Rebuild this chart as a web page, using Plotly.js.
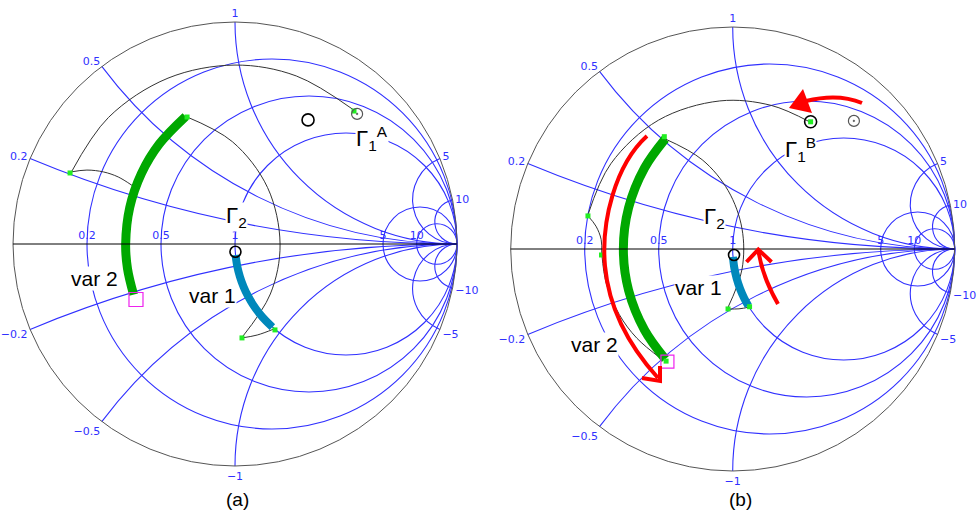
<!DOCTYPE html>
<html><head><meta charset="utf-8">
<script src="https://cdn.plot.ly/plotly-3.0.1.min.js"></script>
<style>html,body{margin:0;padding:0;background:#fff}</style>
</head><body><div id="chart" style="width:977px;height:514px"></div>
<script>
// ---- grid ticks (normalized resistance / reactance) ----
const gridReal = [0.2, 0.5, 1, 5, 10];
const gridImag = [-10, -5, -1, -0.5, -0.2, 0.2, 0.5, 1, 5, 10];

// ---- chart (a): swept normalized impedances ----
const var2A_real = [0.34, 0.34, 0.34, 0.34, 0.34, 0.34, 0.34];
const var2A_imag = [0.63, 0.45, 0.3, 0.15, 0, -0.1, -0.21];
const var1A_real = [1, 1, 1, 1, 1, 1, 1, 1, 1];
const var1A_imag = [-0.1, -0.2, -0.3, -0.4, -0.5, -0.6, -0.7, -0.8, -0.9];

// ---- chart (b): swept normalized impedances ----
const var2B_real = [0.34, 0.34, 0.34, 0.34, 0.34, 0.34, 0.34];
const var2B_imag = [0.51, 0.35, 0.17, 0, -0.17, -0.35, -0.51];
const var1B_real = [1, 1, 1, 1, 1, 1];
const var1B_imag = [-0.07, -0.17, -0.27, -0.37, -0.47, -0.55];

// ---- thin matching paths, read as reflection coefficient (re, im) ----
const pathA1_re = [-0.740, -0.570, -0.302, 0, 0.276, 0.533];
const pathA1_im = [0.319, 0.570, 0.747, 0.806, 0.757, 0.605];
const pathA2_re = [-0.743, -0.667, -0.592, -0.526, -0.464];
const pathA2_im = [0.324, 0.333, 0.3245, 0.302, 0.264];
const pathA3_re = [-0.2236, -0.0118, 0.1466, 0.203, 0.1592, 0.0306];
const pathA3_im = [0.5755, 0.4608, 0.2542, 0, -0.2253, -0.4216];
const pathA4_re = [0.0315, 0.10, 0.175];
const pathA4_im = [-0.423, -0.41, -0.383];

const pathB1_re = [-0.653, -0.549, -0.335, -0.058, 0.173, 0.350];
const pathB1_im = [0.151, 0.384, 0.580, 0.667, 0.647, 0.571];
const pathB2_re = [-0.652, -0.616, -0.5925, -0.590];
const pathB2_im = [0.149, 0.103, 0.0428, -0.0269];
const pathB3_re = [-0.589, -0.570, -0.511, -0.4315, -0.321];
const pathB3_im = [-0.0268, -0.153, -0.295, -0.402, -0.495];
const pathB4_re = [-0.3084, -0.1375, -0.0203, 0.042, 0.042, -0.0231];
const pathB4_im = [0.4979, 0.4022, 0.2625, 0.0911, -0.0911, -0.2672];
const pathB5_re = [-0.0212, 0.0283, 0.078];
const pathB5_im = [-0.270, -0.2695, -0.261];

// ---- marked points (reflection coefficient) ----
const nodesA_re = [-0.743, -0.216, 0.536, 0.0315, 0.180];
const nodesA_im = [0.320, 0.572, 0.599, -0.423, -0.387];
const nodesB_re = [-0.652, -0.591, -0.308, 0.351, -0.021, 0.076, -0.300];
const nodesB_im = [0.149, -0.027, 0.506, 0.573, -0.270, -0.260, -0.505];
const gamma1A_re = [0.329], gamma1A_im = [0.559];
const gamma1B_re = [0.351], gamma1B_im = [0.573];
const refA_re = [0.55], refA_im = [0.586];
const refB_re = [0.546], refB_im = [0.577];
const gamma2A_re = [0.002], gamma2A_im = [-0.035];
const gamma2B_re = [0.006], gamma2B_im = [-0.027];
const endA_re = [-0.446], endA_im = [-0.250];
const endB_re = [-0.294], endB_im = [-0.507];

// reflection coefficient -> normalized impedance
function toZ(re, im) {
  const R = [], X = [];
  for (let i = 0; i < re.length; i++) {
    const d = (1 - re[i]) * (1 - re[i]) + im[i] * im[i];
    R.push((1 - re[i] * re[i] - im[i] * im[i]) / d);
    X.push(2 * im[i] / d);
  }
  return {real: R, imag: X};
}

const GRID = '#3030ff';
const traces = [];
function thin(re, im, sp) {
  const z = toZ(re, im);
  traces.push({type: 'scattersmith', subplot: sp, real: z.real, imag: z.imag, mode: 'lines',
    line: {color: '#333', width: 1, shape: 'spline'}, hoverinfo: 'skip'});
}
function thick(real, imag, color, width, sp) {
  traces.push({type: 'scattersmith', subplot: sp, real: real, imag: imag, mode: 'lines',
    line: {color: color, width: width, shape: 'spline'}, hoverinfo: 'skip'});
}
function mark(re, im, sp, marker) {
  const z = toZ(re, im);
  traces.push({type: 'scattersmith', subplot: sp, real: z.real, imag: z.imag, mode: 'markers',
    marker: marker, hoverinfo: 'skip'});
}

// chart (a)
thin(pathA1_re, pathA1_im, 'smith');
thin(pathA2_re, pathA2_im, 'smith');
thin(pathA3_re, pathA3_im, 'smith');
thin(pathA4_re, pathA4_im, 'smith');
thick(var2A_real, var2A_imag, '#00a800', 9, 'smith');
thick(var1A_real, var1A_imag, '#0088bb', 8, 'smith');
mark(endA_re, endA_im, 'smith', {symbol: 'square-open', size: 14, color: '#ee22ee', line: {width: 1.2}});
mark(nodesA_re, nodesA_im, 'smith', {symbol: 'square', size: 5, color: '#22ee22'});
mark(gamma1A_re, gamma1A_im, 'smith', {symbol: 'circle-open', size: 12, color: '#000', line: {width: 1.6}});
mark(refA_re, refA_im, 'smith', {symbol: 'circle-open-dot', size: 11, color: '#555', line: {width: 1.2}});
mark(gamma2A_re, gamma2A_im, 'smith', {symbol: 'circle-open', size: 11, color: '#000', line: {width: 1.6}});

// chart (b)
thin(pathB1_re, pathB1_im, 'smith2');
thin(pathB2_re, pathB2_im, 'smith2');
thin(pathB3_re, pathB3_im, 'smith2');
thin(pathB4_re, pathB4_im, 'smith2');
thin(pathB5_re, pathB5_im, 'smith2');
thick(var2B_real, var2B_imag, '#00a800', 9, 'smith2');
thick(var1B_real, var1B_imag, '#0088bb', 8, 'smith2');
mark(endB_re, endB_im, 'smith2', {symbol: 'square-open', size: 13, color: '#ee22ee', line: {width: 1.2}});
mark(gamma1B_re, gamma1B_im, 'smith2', {symbol: 'circle-open', size: 12, color: '#000', line: {width: 1.6}});
mark(nodesB_re, nodesB_im, 'smith2', {symbol: 'square', size: 5, color: '#22ee22'});
mark(refB_re, refB_im, 'smith2', {symbol: 'circle-open-dot', size: 11, color: '#555', line: {width: 1.2}});
mark(gamma2B_re, gamma2B_im, 'smith2', {symbol: 'circle-open', size: 11, color: '#000', line: {width: 1.6}});

function smithAxes(dx, dy) {
  return {
    domain: {x: dx, y: dy},
    bgcolor: 'rgba(0,0,0,0)',
    realaxis: {tickvals: gridReal, showline: true, linecolor: '#000', linewidth: 1,
      gridcolor: GRID, gridwidth: 1.1, ticks: '', tickangle: 0, side: 'top',
      tickfont: {family: 'DejaVu Sans', size: 11, color: GRID}},
    imaginaryaxis: {tickvals: gridImag, showline: true, linecolor: '#555', linewidth: 1,
      gridcolor: GRID, gridwidth: 1.1, ticks: '', ticksuffix: '',
      tickfont: {family: 'DejaVu Sans', size: 11, color: GRID}}
  };
}

const W = 977, H = 514;
function P(x, y) { return (x / W).toFixed(5) + ',' + (1 - y / H).toFixed(5); }
function R(x0, y0, x1, y1) { return {x0: x0 / W, x1: x1 / W, y0: 1 - y1 / H, y1: 1 - y0 / H}; }
const RED = '#ff0000';
const shapes = [
  // white patches hiding the infinity label at the right end of each real axis
  Object.assign({type: 'rect', xref: 'paper', yref: 'paper', layer: 'above',
    fillcolor: '#fff', line: {width: 0}}, R(459, 236, 477, 253)),
  Object.assign({type: 'rect', xref: 'paper', yref: 'paper', layer: 'above',
    fillcolor: '#fff', line: {width: 0}}, R(957, 240, 977, 258)),
  {type: 'path', xref: 'paper', yref: 'paper', line: {color: RED, width: 4},
   path: 'M' + P(862, 103) + ' Q' + P(838, 93) + ' ' + P(806, 101)},
  {type: 'path', xref: 'paper', yref: 'paper', line: {width: 0}, fillcolor: RED,
   path: 'M' + P(789, 108) + ' L' + P(803, 89) + ' L' + P(812, 113) + ' Z'},
  {type: 'path', xref: 'paper', yref: 'paper', line: {color: RED, width: 4},
   path: 'M' + P(647, 136) + ' C' + P(615, 165) + ' ' + P(601, 222) + ' ' + P(605, 266) +
         ' C' + P(609, 310) + ' ' + P(630, 347) + ' ' + P(658, 378)},
  {type: 'path', xref: 'paper', yref: 'paper', line: {color: RED, width: 4},
   path: 'M' + P(642, 378) + ' L' + P(660, 381) + ' L' + P(660, 366)},
  {type: 'path', xref: 'paper', yref: 'paper', line: {color: RED, width: 4},
   path: 'M' + P(778, 304) + ' Q' + P(762, 276) + ' ' + P(758.5, 251)},
  {type: 'path', xref: 'paper', yref: 'paper', line: {color: RED, width: 4},
   path: 'M' + P(746.5, 262) + ' L' + P(758.3, 249.5) + ' L' + P(771.5, 262)}
];

const F = 'Liberation Sans, Arial, sans-serif';
function lab(text, x, y, xa, size, bg) {
  return {text: text, xref: 'paper', yref: 'paper', x: x / W, y: 1 - y / H,
    xanchor: xa, yanchor: 'middle', showarrow: false,
    font: {family: F, size: size, color: '#000'},
    bgcolor: bg ? '#fff' : 'rgba(0,0,0,0)', borderpad: 0};
}
const annotations = [
  lab('Γ<sub>2</sub>', 225, 217, 'left', 22, true),
  lab('Γ<sub>1</sub><sup>A</sup>', 355, 139, 'left', 22, true),
  lab('var 2', 94, 278, 'center', 21, true),
  lab('var 1', 212, 295, 'center', 21, true),
  lab('(a)', 237.5, 499, 'center', 19, false),
  lab('Γ<sub>2</sub>', 703, 218, 'left', 22, true),
  lab('Γ<sub>1</sub><sup>B</sup>', 784, 149, 'left', 22, true),
  lab('var 1', 698, 287, 'center', 21, true),
  lab('var 2', 594, 344, 'center', 21, true),
  lab('(b)', 740.5, 499, 'center', 19, false)
];

const layout = {
  width: W, height: H, margin: {l: 0, r: 0, t: 0, b: 0},
  paper_bgcolor: '#fff', showlegend: false,
  smith: smithAxes([13 / W, 457 / W], [1 - 466 / H, 1 - 22 / H]),
  smith2: smithAxes([510.7 / W, 954.7 / W], [1 - 471 / H, 1 - 27 / H]),
  shapes: shapes, annotations: annotations
};
Plotly.newPlot('chart', traces, layout, {displayModeBar: false, staticPlot: true});
</script></body></html>
